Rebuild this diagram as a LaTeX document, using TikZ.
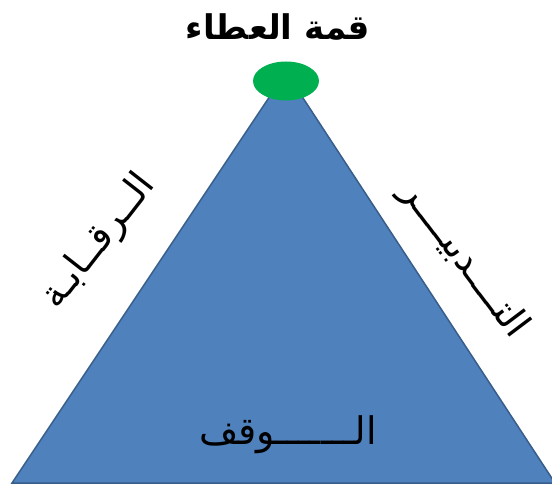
\documentclass[tikz,border=0pt]{standalone}
\usepackage{fontspec}
\usetikzlibrary{shapes.geometric}
\TeXXeTstate=1
\newfontfamily\arabicfont[Script=Arabic]{DejaVu Sans}
\definecolor{pyrblue}{RGB}{79,129,189}
\definecolor{pyredge}{RGB}{56,93,138}
\definecolor{topgreen}{RGB}{0,176,80}

\begin{document}
\begin{tikzpicture}[x=1pt, y=-1pt,
  artext/.style={font=\arabicfont\fontsize{38}{44}\selectfont, inner sep=0pt},
  artitle/.style={font=\arabicfont\bfseries\fontsize{34}{40}\selectfont, inner sep=0pt}]
  \useasboundingbox (0,0) rectangle (552,486);
  \coordinate (apex) at (286,72);
  \coordinate (baseL) at (12,483);
  \coordinate (baseR) at (555,483);
  \fill[pyrblue, draw=pyredge, line width=1.5pt] (baseL) -- (apex) -- (baseR) -- cycle;
  \node[ellipse, fill=topgreen, minimum width=66pt, minimum height=39pt, inner sep=0pt] (peak) at (286,81) {};
  \node[artitle] (title) at (278,27) {\beginR قمة العطاء\endR};
  \node[artext, rotate=52] (control) at (99,242) {\beginR الــرقــابـة\endR};
  \node[artext, rotate=-53] (manage) at (464,260) {\beginR التــــدبيــــر\endR};
  \node[artext] (waqf) at (288,435) {\beginR الـــــــوقف\endR};
\end{tikzpicture}
\end{document}
